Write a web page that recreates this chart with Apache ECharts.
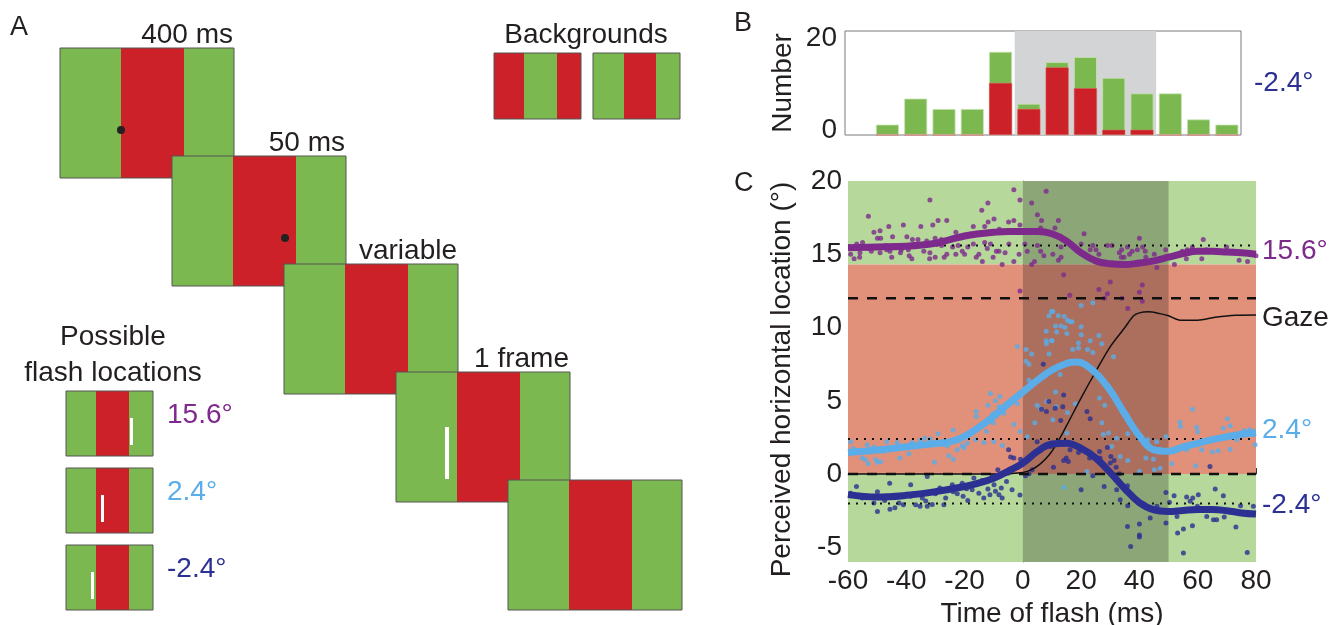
<!DOCTYPE html>
<html><head><meta charset="utf-8">
<script src="https://cdn.jsdelivr.net/npm/echarts@6/dist/echarts.min.js"></script>
<style>html,body{margin:0;padding:0;background:#fff}#c{width:1343px;height:625px}</style>
</head><body><div id="c"></div>
<script>
// ---------- DATA ----------
// Panel B histogram (bin centers in ms)
const binCenters = [-45,-35,-25,-15,-5,5,15,25,35,45,55,65,75];
const totalCounts = [2,7,5,5,16,6,14,15,11,8,8,3,2];
const redCounts   = [0,0,0,0,10,5,13,9,1,1,0,0,0];

// Panel C reference levels
const flashLevels = [15.6, 2.4, -2.0];   // dotted
const gazeLevels = [12, 0];              // dashed
const greenTop = 14.3;                   // boundary green/red background

// smoothed curves [time, location]
const curvePurple = [[-60,15.45],[-50,15.5],[-40,15.55],[-30,15.75],[-25,16.0],[-20,16.25],[-15,16.4],[-10,16.5],[-5,16.55],[0,16.55],[5,16.55],[10,16.4],[15,15.9],[20,15.1],[25,14.55],[30,14.35],[35,14.3],[40,14.4],[45,14.55],[50,14.8],[55,15.05],[60,15.2],[65,15.2],[70,15.15],[75,15.1],[80,15.0]];
const curveLight = [[-60,1.47],[-50,1.64],[-40,1.87],[-30,2.08],[-25,2.2],[-20,2.58],[-15,3.2],[-10,3.95],[-5,4.8],[0,5.6],[5,6.4],[10,7.1],[15,7.55],[18,7.65],[20,7.6],[25,6.9],[30,5.7],[35,4.1],[40,2.6],[45,1.65],[50,1.55],[55,1.85],[60,2.1],[65,2.35],[70,2.55],[75,2.72],[80,2.84]];
const curveDark = [[-60,-1.4],[-50,-1.57],[-40,-1.45],[-30,-1.2],[-20,-0.85],[-15,-0.6],[-10,-0.28],[-5,0.2],[0,0.75],[5,1.55],[10,2.05],[15,2.1],[20,1.75],[25,1.1],[30,0.1],[35,-1.0],[40,-1.95],[45,-2.45],[50,-2.55],[55,-2.48],[60,-2.42],[65,-2.42],[70,-2.5],[75,-2.65],[80,-2.73]];
const gazeCurve = [[-60,0],[-10,0],[-5,0.02],[0,0.1],[3,0.3],[6,0.7],[9,1.3],[12,2.2],[15,3.3],[20,5.2],[25,7.0],[30,8.7],[35,10.0],[38,10.8],[40,11.0],[43,11.07],[47,10.95],[50,10.8],[54,10.5],[60,10.5],[66,10.7],[73,10.84],[80,10.86]];

// scatter points [time, location]
const ptsPurple = [[-31.9,18.7],[-53,17.6],[-3.1,19.4],[-1,18.7],[8,19.3],[-12,18.5],[-14.1,18.0],[3,18.5],[5,17.7],[-9.9,17.4],[-11.9,17.2],[-3.1,17.3],[-4.9,17.2],[-1,17.0],[6.4,17.3],[-30.9,17.0],[-29.1,17.3],[-26.1,17.3],[-35,16.9],[-41,17.0],[-46,16.9],[-51.1,16.5],[-49,16.6],[-48.8,16.1],[-49.9,16.1],[-44.7,16.2],[-39.8,16.2],[-37.9,16.0],[-36,16.0],[-30.1,16.1],[-23,16.5],[-17,16.9],[-13.1,16.9],[-8.1,16.7],[-2,16.6],[6.1,16.8],[-55,15.8],[-57,15.7],[-59.1,15.0],[-57.9,14.7],[-56,14.8],[-55.9,15.1],[-52,15.2],[-49,15.1],[-46.7,15.3],[-45.6,15.2],[-45,14.8],[-42,15.1],[-41.7,15.3],[-39.3,15.3],[-39,14.9],[-38.1,14.7],[-34,15.2],[-31.9,15.1],[-32,14.7],[-30.1,14.8],[-27.9,15.6],[-27,14.8],[-26.1,15.0],[-24.1,15.5],[-23,15.0],[-22.2,15.6],[-20.8,15.2],[-20,15.0],[-18.9,15.5],[-17,15.7],[-16,14.8],[-15.1,15.0],[-13.9,14.5],[-13.1,15.8],[-12.2,15.4],[-11.1,15.7],[-10.2,14.8],[-9.1,15.2],[-8.2,15.2],[-7.1,14.3],[-6.1,15.1],[-4.8,15.7],[-3.1,14.5],[-1.3,15.0],[0.7,15.7],[1.5,15.2],[3,14.3],[4,14.5],[5,15.6],[6.1,15.2],[7.2,14.9],[-1,12.5],
 [12.2,17.3],[11,16.8],[21,16.4],[10.3,15.0],[13.1,15.5],[13.1,14.8],[12.2,14.6],[20,15.7],[24,15.6],[25.1,15.3],[23.1,15.3],[26.1,15.0],[29,15.6],[30.6,15.6],[33.9,15.3],[33.1,15.1],[35.9,15.5],[33.8,14.8],[34.7,14.8],[36.6,15.0],[37.5,15.2],[39.3,15.3],[40,16.1],[41.1,15.5],[42,15.2],[42.2,14.8],[45.1,15.0],[46,14.1],[49,15.3],[52,14.3],[54.7,15.2],[56.4,15.3],[56.1,14.7],[58.2,15.5],[61.9,16.0],[61.4,14.7],[65,15.2],[69.9,15.5],[74.2,14.6],[77.1,14.5],[14.0,13.6],[26.1,12.6],[30,13.1],[29,12.3],[16.1,12.2],[28,12.0],[34,12.0],[40,12.4],[41,12.9],[41,11.8],[36,11.3],
 [-58,15.5],[-53,15.4],[-47,15.6],[-43,15.5],[-36,15.6],[-33,15.9],[-28,16.0],[-21,16.2],[44,14.6],[48,14.7],[55,15.1],[58,15.3],[60,15.2],[63,15.3],[67,15.2],[72,15.2],[78,15.0],[80,14.9]];
const ptsLight = [[20,11.5],[24,11.7],[10.3,11.1],[12.2,10.8],[14.2,10.75],[15.3,10.5],[16.2,10.4],[11.2,10.1],[13.1,10.1],[14.5,10.0],[16.9,10.4],[20,10.05],[11.6,9.7],[15.1,9.6],[20,9.5],[26.1,9.45],[23.1,9.1],[19.1,8.95],[27.1,8.9],[17.1,8.5],[22.2,8.5],[19.1,8.6],[24,8.3],[31.1,8.0],[10,9.1],
 [-1.9,8.7],[1.1,8.5],[3,8.2],[1.1,7.7],[2.1,7.5],[8,9.75],[8,9.1],[8.1,8.9],[9,10.8],[9.8,11.1],[9,8.2],[9.8,9.1],
 [-59.1,2.2],[-58.2,1.75],[-55.1,1.1],[-54,0.97],[-53.1,0.7],[-50.5,1.0],[-49.9,0.8],[-48.8,0.84],[-51.1,1.84],[-53.4,2.0],[-46.7,2.2],[-47.9,1.54],[-44.8,1.75],[-43.1,2.15],[-42.2,1.1],[-40.8,1.84],[-39.1,1.38],[-38,2.15],[-36.2,1.88],[-35.3,2.3],[-33.7,2.45],[-31.7,2.4],[-30.3,0.8],[-29.1,2.75],[-27.7,2.2],[-26,1.93],[-25.4,1.25],[-23.9,3.0],[-23.9,1.02],[-22.5,1.66],[-20.8,1.93],[-20.2,1.8],[-19.1,2.1],[-16.2,2.34],[-16,4.27],[-16,3.93],[-13.4,2.15],[-12.5,2.9],[-12,4.7],[-11.1,5.5],[-10.3,4.1],[-10.2,3.5],[-10,2.2],[-9.4,5.0],[-8.2,4.6],[-7.9,5.3],[-7,1.95],[-6.5,4.15],[-5.4,4.8],[-3.1,3.4],[-1,2.9],[-3.3,5.1],[-1.9,4.8],[1.5,2.55],[2.1,6.4],[4.1,3.5],[4.9,4.7],[6.1,4.45],[8.3,4.95],
 [12.8,6.8],[11.2,5.6],[11.4,4.6],[10.3,3.7],[15.3,4.2],[18,4.8],[26.3,5.2],[28.1,4.7],[27.1,3.5],[27.6,2.7],[29.4,2.8],[32.2,2.45],[36,2.75],[36,0.93],[33.4,1.2],[30.5,1.88],[22,0.18],[15.1,2.8],[14,-0.9],[40,0.18],[42.2,1.09],[42.9,2.34],[44.8,1.02],[45.1,0.29],[45.9,2.2],[47.1,0.4],[49.1,2.57],[51.1,0.7],[53.9,3.54],[54.1,3.25],[56.2,1.66],[58.2,4.43],[59.3,0.57],[59.6,3.2],[60,2.88],[61.4,1.66],[65.1,1.52],[67.1,1.59],[68.8,3.13],[70.2,3.77],[71.1,3.3],[71.1,1.7],[73.4,2.34],[76,2.97],[77.9,3.02],[79.1,2.68],[79.7,2.0],
 [-57,1.6],[-52,1.5],[-45,1.8],[-40,1.85],[-34,2.0],[-28,2.1],[-22,2.3],[-18,2.7],[-14,3.3],[-9,4.0],[-6,4.6],[-2,5.3],[3,6.1],[6,6.6],[12,7.3],[16,7.7],[20,7.7],[24,7.1],[28,6.2],[33,4.8],[38,3.2],[43,2.0],[47,1.7],[52,1.7],[57,2.0],[63,2.3],[68,2.5],[74,2.7],[78,2.8]];
const ptsDark = [[-59.1,-1.3],[-57.1,-0.84],[-55.1,-1.64],[-51.1,-1.98],[-49.9,-2.55],[-49.9,-1.2],[-47.4,-1.8],[-46.8,-1.5],[-45.7,-0.62],[-45.6,-2.4],[-43.9,-2.3],[-42.5,-1.98],[-41,-2.1],[-38.5,-0.73],[-38.5,-1.52],[-37.4,-1.34],[-36.8,-2.1],[-35.3,-2.2],[-34.5,-1.64],[-33.3,-1.84],[-32.8,-0.16],[-32.8,-2.2],[-31.1,-2.07],[-30,-1.34],[-28.5,-0.95],[-27.1,-2.1],[-26.5,-1.64],[-24.2,-0.73],[-23.9,-1.2],[-22.5,-1.34],[-20.8,-0.62],[-20.5,-1.52],[-19.3,-1.0],[-18.9,-1.8],[-17.4,-1.07],[-16.8,-0.27],[-15.9,-0.73],[-15.1,-1.3],[-14,-0.43],[-13.4,-1.64],[-12,-1.02],[-11.3,-1.41],[-10.5,-0.16],[-9.9,-0.73],[-9.4,-1.18],[-8.6,0.29],[-8.2,-1.41],[-7.4,-0.95],[-7.1,-1.64],[-5.6,-0.5],[-4.9,1.66],[-4.2,1.16],[-3.7,-1.07],[-3.1,1.09],[-1,-1.43],[-0.8,1.02],[0.9,-0.11],[2.1,0.02],[3.2,0.29],[4.9,2.2],[5.5,1.66],[6.4,4.43],[8.1,4.27],[8.9,4.95],[9.5,1.88],[7,7.5],
 [14,5.4],[13.7,4.6],[13,3.65],[11.1,4.5],[10.5,0.47],[14.9,1.09],[14,0.93],[15.6,0.86],[16.2,1.66],[19.1,1.48],[22,4.27],[23.1,3.77],[22.9,1.09],[24,-0.11],[26.3,1.54],[26.5,1.09],[29,1.82],[30.2,1.2],[30,0.75],[31.3,0.93],[32,0.47],[33.1,0.02],[20,-1.07],[27.9,-0.84],[32.2,-1.07],[33.4,-1.75],[35.9,-0.8],[36,-2.16],[35.9,-3.57],[37,-4.94],[40,-3.4],[40,-4.15],[40,-4.3],[43.7,-3.0],[46,-2.2],[49.1,-3.34],[49.1,-1.25],[50.3,-1.93],[51.9,-1.48],[52.9,-2.89],[53.1,-4.02],[55.1,-5.39],[55.1,-3.75],[56.2,-1.57],[57.4,-1.86],[58.3,-1.64],[58.2,-3.52],[60.2,-1.41],[59.9,-2.2],[63.1,-2.89],[64.2,0.52],[65.4,-3.11],[66,-1.02],[66.5,-3.11],[68.8,-1.48],[69.1,-2.93],[73.1,-3.61],[74.7,-2.16],[77,-5.35],[79.1,-2.2],
 [-58,-1.4],[-53,-1.55],[-44,-1.5],[-36,-1.35],[-29,-1.15],[-22,-0.95],[-17,-0.7],[-12,-0.45],[-6,0.05],[-2,0.45],[2,1.0],[6,1.7],[12,2.1],[17,2.0],[22,1.5],[27,0.75],[31,-0.1],[36,-1.2],[41,-2.1],[45,-2.4],[48,-2.5],[53,-2.5],[58,-2.45],[62,-2.4],[68,-2.45],[72,-2.55],[76,-2.65]];

const xTicksC = [-60,-40,-20,0,20,40,60,80];
const yTicksC = [-5,0,5,10,15,20];
const yTicksB = [0,20];
const flashWindow = [0, 50];

// Panel A labels
const stepLabels = ['400 ms','50 ms','variable','1 frame',''];
const flashLabels = ['15.6°','2.4°','-2.4°'];

// ---------- STYLE ----------
const FONT = '"Liberation Sans", Arial, sans-serif';
const TXT = '#231f20';
const GREEN = '#7cb850', RED = '#cc2129';
const C_PURPLE = '#7d2a8c', C_LIGHT = '#5aade9', C_DARK = '#2b3092';
const BG_GREEN = '#b6d89b', BG_RED = '#e1917a';
const FS = 28;

// ---------- PANEL A GRAPHICS ----------
const graphics = [];
function rect(x,y,w,h,fill,stroke){graphics.push({type:'rect',shape:{x,y,width:w,height:h},style:{fill,stroke:stroke||null,lineWidth:stroke?1:0},silent:true});}
function text(str,x,y,color,align,valign,size){graphics.push({type:'text',x,y,style:{text:str,fill:color||TXT,font:(size||FS)+'px '+FONT,textAlign:align||'left',textVerticalAlign:valign||'middle'},silent:true});}
function frame(x,y,w,h,stripes){
  stripes.forEach(s=>rect(x+s[0],y,s[1]-s[0],h,s[2]));
  rect(x,y,w,h,'none','#555');
}
const FW=174, FH=130, DX=112, DY=108;
const stepStripes = [[0,61,GREEN],[61,124,RED],[124,FW,GREEN]];
for(let i=0;i<5;i++){
  const x=60+i*DX, y=48+i*DY;
  frame(x,y,FW,FH,stepStripes);
  if(stepLabels[i]) text(stepLabels[i],x+FW-1,y+1,TXT,'right','bottom');
  if(i===0) graphics.push({type:'circle',shape:{cx:x+61,cy:y+82,r:4},style:{fill:'#222'},silent:true});
  if(i===1) graphics.push({type:'circle',shape:{cx:x+113,cy:y+82,r:4},style:{fill:'#222'},silent:true});
  if(i===3) rect(x+49,y+55,4,52,'#fff');
}
// backgrounds
text('Backgrounds',586,35,TXT,'center','middle');
frame(494,53,87,66,[[0,30,RED],[30,63,GREEN],[63,87,RED]]);
frame(593,53,87,66,[[0,31,GREEN],[31,63,RED],[63,87,GREEN]]);
// possible flash locations
text('Possible',113,337,TXT,'center','middle');
text('flash locations',113,373,TXT,'center','middle');
const smallStripes=[[0,30,GREEN],[30,63,RED],[63,87,GREEN]];
const barX=[65,36,26];
const flashCol=[C_PURPLE,C_LIGHT,C_DARK];
[391,468,545].forEach((y,i)=>{
  frame(66,y,87,65,smallStripes);
  rect(66+barX[i]-1,y+27,3,27,'#fff');
  text(flashLabels[i],167,y+24,flashCol[i],'left','middle');
});
// panel letters
text('A',10,28,TXT,'left','middle',27);
text('B',734,24,TXT,'left','middle',27);
text('C',734,184,TXT,'left','middle',27);
// right labels
text('-2.4°',1254,83,C_DARK,'left','middle');
text('15.6°',1262,251,C_PURPLE,'left','middle');
text('Gaze',1262,318,TXT,'left','middle');
text('2.4°',1262,430,C_LIGHT,'left','middle');
text('-2.4°',1262,505,C_DARK,'left','middle');

// ---------- CHART ----------
const axisLbl = {color:TXT,fontSize:FS,fontFamily:FONT};
const chart = echarts.init(document.getElementById('c'),null,{renderer:'canvas'});
const hLine = (v,type)=>({type:'line',xAxisIndex:1,yAxisIndex:1,data:[[-60,v],[80,v]],showSymbol:false,silent:true,z:6,
  lineStyle:{color:'#111',width:type==='dash'?2.5:2,type:type==='dash'?[10,9]:[2,6]}});
chart.setOption({
  animation:false,
  graphic:graphics,
  grid:[
    {left:845,top:31,width:396,height:104,show:true,borderColor:'#7a7a7a',borderWidth:1,backgroundColor:'transparent',outerBoundsMode:'none',containLabel:false},
    {left:848,top:181,width:408,height:381,show:false,outerBoundsMode:'none',containLabel:false}
  ],
  xAxis:[
    {gridIndex:0,type:'value',min:-60,max:80,axisLabel:{show:false},axisTick:{show:false},splitLine:{show:false},axisLine:{show:false}},
    {gridIndex:1,type:'value',min:-60,max:80,interval:20,
     name:'Time of flash (ms)',nameLocation:'middle',nameGap:30,nameTextStyle:axisLbl,
     axisLabel:Object.assign({margin:5},axisLbl),axisTick:{inside:true,length:6,lineStyle:{color:'#333'}},
     axisLine:{lineStyle:{color:'#777'}},splitLine:{show:false}}
  ],
  yAxis:[
    {gridIndex:0,type:'value',min:0,max:20,name:'Number',nameLocation:'middle',nameGap:48,nameTextStyle:axisLbl,
     axisLabel:Object.assign({margin:8,customValues:yTicksB,
       formatter:v=>v===20?'{t|20}':'{b|0}',
       rich:{t:{fontSize:FS,fontFamily:FONT,color:TXT,padding:[14,0,0,0]},b:{fontSize:FS,fontFamily:FONT,color:TXT,padding:[0,0,10,0]}}},axisLbl),
     axisTick:{show:false},axisLine:{show:false},splitLine:{show:false}},
    {gridIndex:1,type:'value',min:-6,max:20,
     name:'Perceived horizontal location (°)',nameLocation:'middle',nameGap:52,
     nameTextStyle:Object.assign({padding:[0,16,0,0]},axisLbl),
     axisLabel:Object.assign({margin:6,customValues:yTicksC},axisLbl),
     axisTick:{inside:true,length:6,customValues:yTicksC,lineStyle:{color:'#333'}},
     axisLine:{lineStyle:{color:'#777'}},splitLine:{show:false}}
  ],
  series:[
    // panel B
    {type:'line',xAxisIndex:0,yAxisIndex:0,data:[],silent:true,
     markArea:{silent:true,itemStyle:{color:'#d3d4d6'},data:[[{xAxis:flashWindow[0]},{xAxis:flashWindow[1]}]]}},
    {type:'bar',xAxisIndex:0,yAxisIndex:0,barWidth:23,z:3,data:binCenters.map((c,i)=>[c,totalCounts[i]]),
     itemStyle:{color:GREEN,borderColor:'#c8e2b4',borderWidth:0.8}},
    {type:'bar',xAxisIndex:0,yAxisIndex:0,barWidth:23,barGap:'-100%',z:4,data:binCenters.map((c,i)=>[c,redCounts[i]]),
     itemStyle:{color:RED,borderColor:'#e06060',borderWidth:0.5}},
    // panel C backgrounds
    {type:'line',xAxisIndex:1,yAxisIndex:1,data:[],silent:true,z:1,
     markArea:{silent:true,data:[
       [{yAxis:greenTop,itemStyle:{color:BG_GREEN}},{yAxis:20}],
       [{yAxis:0,itemStyle:{color:BG_RED}},{yAxis:greenTop}],
       [{yAxis:-6,itemStyle:{color:BG_GREEN}},{yAxis:0}]
     ]}},
    {type:'line',xAxisIndex:1,yAxisIndex:1,data:[],silent:true,z:2,
     markArea:{silent:true,itemStyle:{color:'rgba(0,0,0,0.23)'},data:[[{xAxis:flashWindow[0]},{xAxis:flashWindow[1]}]]}},
    hLine(gazeLevels[0],'dash'), hLine(gazeLevels[1],'dash'),
    hLine(flashLevels[0],'dot'), hLine(flashLevels[1],'dot'), hLine(flashLevels[2],'dot'),
    // scatter
    {type:'scatter',xAxisIndex:1,yAxisIndex:1,data:ptsPurple,symbolSize:5,itemStyle:{color:C_PURPLE},z:5},
    {type:'scatter',xAxisIndex:1,yAxisIndex:1,data:ptsLight,symbolSize:5,itemStyle:{color:C_LIGHT},z:5},
    {type:'scatter',xAxisIndex:1,yAxisIndex:1,data:ptsDark,symbolSize:5,itemStyle:{color:C_DARK},z:5},
    // gaze
    {type:'line',xAxisIndex:1,yAxisIndex:1,data:gazeCurve,smooth:0.3,showSymbol:false,z:7,lineStyle:{color:'#111',width:1.5}},
    // curves
    {type:'line',xAxisIndex:1,yAxisIndex:1,data:curveLight,smooth:0.4,showSymbol:false,z:8,lineStyle:{color:C_LIGHT,width:7}},
    {type:'line',xAxisIndex:1,yAxisIndex:1,data:curveDark,smooth:0.4,showSymbol:false,z:9,lineStyle:{color:C_DARK,width:7}},
    {type:'line',xAxisIndex:1,yAxisIndex:1,data:curvePurple,smooth:0.4,showSymbol:false,z:9,lineStyle:{color:C_PURPLE,width:7}}
  ]
});
</script></body></html>
